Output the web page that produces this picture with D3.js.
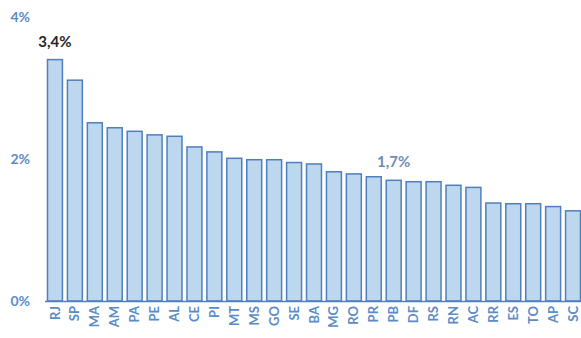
<!DOCTYPE html>
<html>
<head>
<meta charset="utf-8">
<script src="https://cdn.jsdelivr.net/npm/d3@7/dist/d3.min.js"></script>
<style>
  html, body { margin: 0; padding: 0; background: #fff; }
  svg { display: block; }
  text { font-family: Lato, "Open Sans", sans-serif; }
</style>
</head>
<body>
<svg id="chart" width="581" height="338"></svg>
<script>
// States, ordered by share
const states = ["RJ","SP","MA","AM","PA","PE","AL","CE","PI","MT","MS","GO","SE","BA",
                "MG","RO","PR","PB","DF","RS","RN","AC","RR","ES","TO","AP","SC"];
// Share per state, in percent
const shares = [3.4, 3.11, 2.51, 2.44, 2.39, 2.34, 2.32, 2.17, 2.10, 2.01, 1.99, 1.99, 1.95, 1.93,
                1.82, 1.79, 1.75, 1.7, 1.68, 1.68, 1.63, 1.60, 1.38, 1.37, 1.37, 1.33, 1.27];
// Y axis ticks, in percent
const yTicks = [0, 2, 4];
// Bars that carry a value label
const labelled = [
  { state: "RJ", color: "#262626" },
  { state: "PB", color: "#6f8db3" }
];

const svg = d3.select("#chart");
const data = states.map((s, i) => ({ state: s, value: shares[i] }));

const x = d3.scaleBand()
  .domain(states)
  .range([45, 583])
  .paddingInner(0.25)
  .paddingOuter(0.125);

const y = d3.scaleLinear()
  .domain([0, 4])
  .range([301, 17]);

const axisBlue = "#5b8cc8";

// bars
svg.append("g")
  .selectAll("rect")
  .data(data)
  .join("rect")
  .attr("x", d => x(d.state))
  .attr("y", d => y(d.value))
  .attr("width", x.bandwidth())
  .attr("height", d => y(0) - y(d.value))
  .attr("fill", "#bdd7ee")
  .attr("stroke", "#4f7fbd")
  .attr("stroke-width", 1.5);

// y axis labels
const yAxis = d3.axisLeft(y)
  .tickValues(yTicks)
  .tickSize(0)
  .tickPadding(0)
  .tickFormat(d => d + "%");
const gy = svg.append("g").attr("transform", "translate(30,0)").call(yAxis);
gy.select(".domain").remove();
gy.selectAll("text")
  .attr("fill", axisBlue)
  .style("font-size", "14px")
  .style("font-weight", "700")
  .style("font-family", "Lato, 'Open Sans', sans-serif");

// x axis
const xAxis = d3.axisBottom(x).tickSize(0).tickPadding(0);
const gx = svg.append("g").attr("transform", `translate(0,${y(0)})`).call(xAxis);
gx.select(".domain")
  .attr("d", `M45,0.5H581`)
  .attr("stroke", "#4f7fbd")
  .attr("stroke-width", 1.5);
gx.selectAll("text")
  .attr("fill", axisBlue)
  .attr("transform", "rotate(-90)")
  .attr("x", -5)
  .attr("y", 0)
  .attr("dy", "0.35em")
  .attr("text-anchor", "end")
  .style("font-size", "13px")
  .style("font-weight", "700")
  .style("font-family", "Lato, 'Open Sans', sans-serif");

// value labels
const fmt = v => d3.format(".1f")(v).replace(".", ",") + "%";
svg.append("g")
  .selectAll("text")
  .data(labelled)
  .join("text")
  .attr("x", d => x(d.state) + x.bandwidth() / 2)
  .attr("y", d => y(shares[states.indexOf(d.state)]) - 13)
  .attr("text-anchor", "middle")
  .attr("fill", d => d.color)
  .style("font-size", "15px")
  .style("font-weight", "700")
  .text(d => fmt(shares[states.indexOf(d.state)]));
</script>
</body>
</html>
